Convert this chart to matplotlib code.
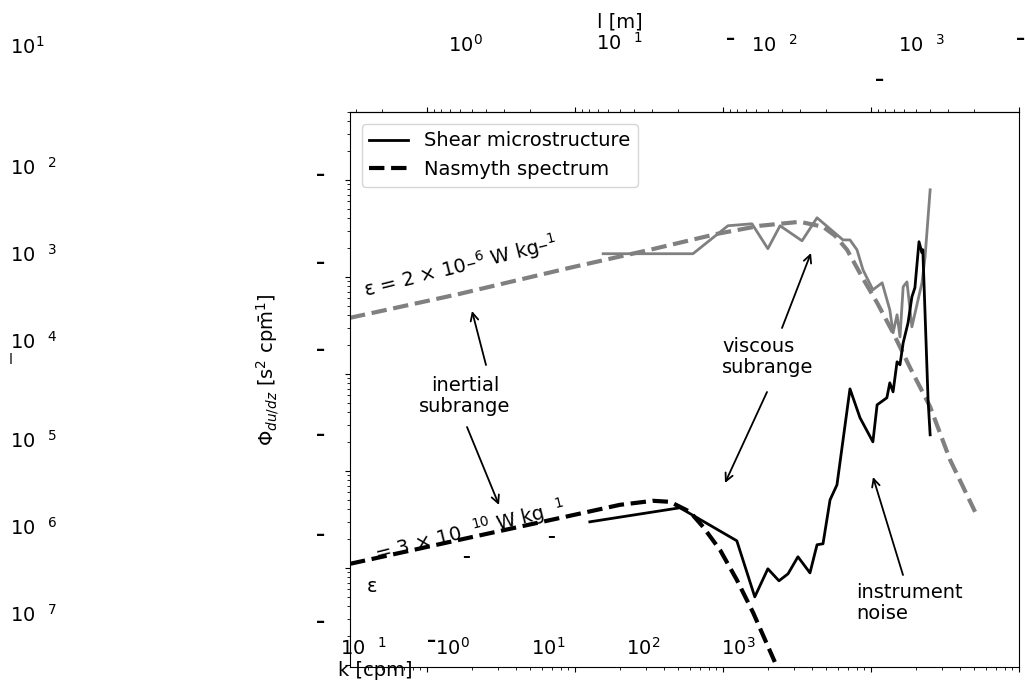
import matplotlib
matplotlib.use('Agg')
import matplotlib.pyplot as plt
from matplotlib.lines import Line2D
from matplotlib.ticker import NullFormatter

W, H = 1025, 683

# Shear microstructure, strong mixing (grey)
gray_obs_k = [1.55, 6.27, 10.8, 15.7, 20.1, 24.3, 34.2, 43.2, 64.7, 72.1, 80.4, 88.3, 103,
              119, 134, 141, 150, 157, 165, 175, 189, 208, 221, 232, 251]
gray_obs_phi = [1.73e-3, 1.73e-3, 3.36e-3, 3.52e-3, 1.95e-3, 3.36e-3, 2.35e-3, 4.06e-3,
                2.40e-3, 2.40e-3, 1.90e-3, 1.18e-3, 7.35e-4, 8.67e-4, 4.57e-4, 2.65e-4,
                4.06e-4, 2.40e-4, 7.89e-4, 8.87e-4, 3.05e-4, 5.80e-4, 8.67e-4, 1.61e-3, 7.89e-3]

# Shear microstructure, weak mixing (black)
black_obs_k = [1.26, 5.12, 12.4, 16.4, 20.1, 23.9, 27.5, 32.1, 38.7, 43.2, 47.4, 52.9, 58.9,
               72.1, 84.3, 103, 110, 128, 134, 141, 150, 157, 165, 178, 189, 198, 211, 221,
               224, 243, 251]
black_obs_phi = [2.98e-6, 4.16e-6, 1.90e-6, 5.02e-7, 9.77e-7, 7.35e-7, 8.67e-7, 1.30e-6,
                 8.87e-7, 1.73e-6, 1.77e-6, 5.02e-6, 7.17e-6, 7.00e-5, 3.52e-5, 1.99e-5,
                 4.79e-5, 5.66e-5, 8.07e-5, 6.52e-5, 1.33e-4, 1.24e-4, 2.09e-4, 3.36e-4,
                 6.22e-4, 7.71e-4, 2.30e-3, 1.77e-3, 1.90e-3, 5.40e-5, 2.35e-5]

# Nasmyth spectra
gray_nas_k = [0.0302, 0.167, 0.925, 3.21, 9.10, 17.8, 33.1, 47.4, 57.2, 68.9, 86.9, 110,
              141, 184, 251, 342, 505]
gray_nas_phi = [3.78e-4, 6.68e-4, 1.24e-3, 1.90e-3, 2.77e-3, 3.36e-3, 3.69e-3, 3.28e-3,
                2.65e-3, 1.90e-3, 1.00e-3, 5.40e-4, 2.65e-4, 1.15e-4, 4.57e-5, 1.30e-5, 3.78e-6]

black_nas_k = [0.0302, 0.167, 0.925, 2.01, 3.37, 4.39, 5.98, 7.33, 9.55, 12.4, 16.0, 22.4]
black_nas_phi = [1.10e-6, 1.95e-6, 3.44e-6, 4.46e-6, 4.91e-6, 4.79e-6, 3.78e-6, 2.65e-6,
                 1.53e-6, 7.52e-7, 3.44e-7, 1.07e-7]

GREY = '#808080'
FS = 14


def fx(px):
    return px / W


def fy(py):
    return 1 - py / H


fig = plt.figure(figsize=(W / 100, H / 100), dpi=100)
ax = fig.add_axes([fx(350), fy(667), 669 / W, 555 / H])

ax.plot(gray_nas_k, gray_nas_phi, color=GREY, lw=3, ls='--')
ax.plot(black_nas_k, black_nas_phi, color='black', lw=3, ls='--')
ax.plot(gray_obs_k, gray_obs_phi, color=GREY, lw=2)
ax.plot(black_obs_k, black_obs_phi, color='black', lw=2)

ax.set_xscale('log')
ax.set_yscale('log')
ax.set_xlim(0.0302, 1000)
ax.set_ylim(9.5e-8, 0.05)
ax.tick_params(labelbottom=False, labelleft=False, which='both')
ax.yaxis.set_minor_formatter(NullFormatter())
ax.xaxis.set_minor_formatter(NullFormatter())

top = ax.secondary_xaxis('top', functions=(lambda k: 1 / k, lambda l: 1 / l))
top.xaxis.set_major_formatter(NullFormatter())
top.xaxis.set_minor_formatter(NullFormatter())

handles = [Line2D([], [], color='black', lw=2),
           Line2D([], [], color='black', lw=3, ls='--')]
ax.legend(handles, ['Shear microstructure', 'Nasmyth spectrum'], loc='upper left',
          fontsize=FS, borderaxespad=0.6)


# tick labels placed as they appear in the reference
def ftext(px, py, s, **kw):
    kw.setdefault('fontsize', FS)
    kw.setdefault('ha', 'left')
    kw.setdefault('va', 'center')
    fig.text(fx(px), fy(py), s, **kw)


def dash(px, py, size=13):
    ftext(px, py, '–', ha='center', fontsize=size, fontweight='bold')


# left column
ftext(10, 47, '10$^1$')
for py, e in zip([168, 255, 342, 441, 528, 615], ['2', '3', '4', '5', '6', '7']):
    ftext(10, py, '10  $^' + e + '$')
for py in [175, 263, 350, 435, 535, 622]:
    dash(321, py)
ftext(11, 358, '|', ha='center', fontsize=8, fontweight='bold')

# top axis
ftext(620, 22, 'l [m]', ha='center')
ftext(448, 45, '10$^0$')
ftext(596, 43, '10  $^1$')
ftext(751, 45, '10  $^2$')
ftext(898, 45, '10  $^3$')
for px, py in [(731, 39), (880, 80), (1021, 39)]:
    dash(px, py)

# bottom axis
ftext(340, 648, '10  $^1$')
ftext(435, 648, '10$^0$')
ftext(531, 648, '10$^1$')
ftext(626, 648, '10$^2$')
ftext(721, 648, '10$^3$')
dash(432, 641)
ftext(338, 671, 'k [cpm]')

ftext(268, 370, r'$\Phi_{du/dz}$ [s$^2$ cp$\bar{\mathrm{m}}^1$]', ha='center',
      rotation=90)

# epsilon labels
ftext(460, 266, 'ε = 2 × 10–$^{6}$ W kg–$^{1}$', ha='center', rotation=14)
ftext(470, 531, '= 3 × 10  $^{10}$ W kg  $^1$', ha='center', rotation=14)
ftext(372, 586, 'ε', ha='center')
dash(466, 557, 11)
dash(551, 537, 11)

# annotations
ftext(465, 396, 'inertial\nsubrange', ha='center', linespacing=1.1)
ftext(722, 357, 'viscous\nsubrange', linespacing=1.1)
ftext(856, 603, 'instrument\nnoise', linespacing=1.1)

arrows = [((486, 365), (472, 311)), ((467, 427), (499, 505)),
          ((767, 392), (725, 483)), ((782, 328), (811, 253)),
          ((903, 575), (873, 477))]
for (sx, sy), (tx, ty) in arrows:
    ax.annotate('', xy=(fx(tx), fy(ty)), xytext=(fx(sx), fy(sy)),
                xycoords='figure fraction', textcoords='figure fraction',
                arrowprops=dict(arrowstyle='->', lw=1.3, color='black',
                                shrinkA=0, shrinkB=0, mutation_scale=14))

fig.savefig('out.png', dpi=100)
